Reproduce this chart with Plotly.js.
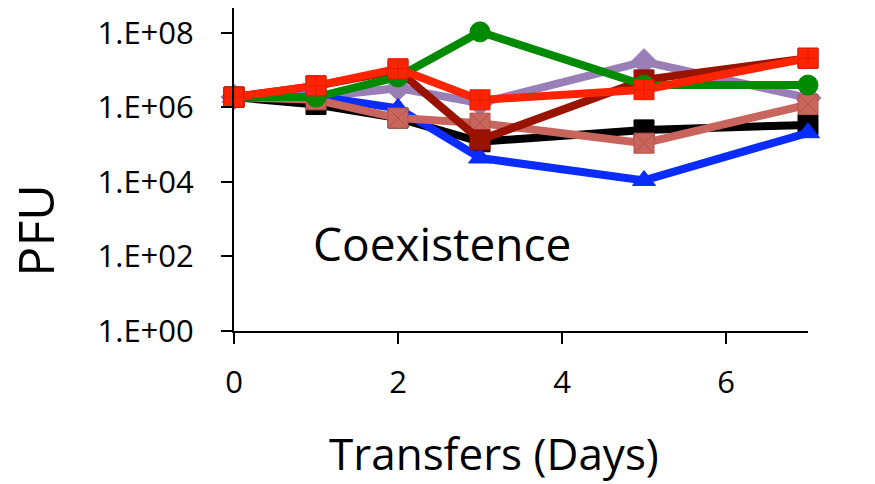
<!DOCTYPE html>
<html>
<head>
<meta charset="utf-8">
<script src="https://cdn.plot.ly/plotly-3.0.1.min.js"></script>
<style>
  html, body { margin: 0; padding: 0; background: #fff; }
  #chart { width: 875px; height: 484px; }
</style>
</head>
<body>
<div id="chart"></div>
<script>
// Transfer days sampled
const days = [0, 1, 2, 3, 5, 7];

// PFU per culture line
const pfuBlack   = [1.9e6, 1.2e6, 5.2e5, 1.2e5, 2.5e5, 3.4e5];
const pfuBlue    = [1.9e6, 2.0e6, 9.5e5, 4.4e4, 1.1e4, 2.1e5];
const pfuPurple  = [1.9e6, 1.9e6, 3.3e6, 1.3e6, 1.7e7, 1.8e6];
const pfuPink    = [1.9e6, 1.6e6, 5.2e5, 3.8e5, 1.1e5, 1.2e6];
const pfuDarkRed = [1.9e6, 3.8e6, 1.0e7, 1.35e5, 5.5e6, 2.1e7];
const pfuGreen   = [1.9e6, 1.9e6, 6.6e6, 1.07e8, 4.0e6, 4.0e6];
const pfuRed     = [1.9e6, 3.8e6, 1.1e7, 1.6e6, 3.0e6, 2.1e7];

// Y tick positions and labels
const yTickVals = [1, 1e2, 1e4, 1e6, 1e8];
const yTickText = ['1.E+00', '1.E+02', '1.E+04', '1.E+06', '1.E+08'];
const xTickVals = [0, 2, 4, 6];

function series(y, color, symbol, edge) {
  return {
    x: days, y: y, type: 'scatter', mode: 'lines+markers',
    line: { color: color, width: 8 },
    marker: { color: color, symbol: symbol, size: 20,
              line: { color: edge || color, width: 1 } },
    cliponaxis: false, showlegend: false, hoverinfo: 'skip'
  };
}

const data = [
  series(pfuPurple,  '#9a7fb6', 'diamond'),
  series(pfuBlack,   '#000000', 'square'),
  series(pfuBlue,    '#0a2cff', 'triangle-up'),
  series(pfuPink,    '#c8655d', 'square-x', '#b5524a'),
  series(pfuDarkRed, '#9a1200', 'square'),
  series(pfuGreen,   '#008a00', 'circle'),
  series(pfuRed,     '#ff2400', 'square-cross', '#e01a00')
];

const font = '"Open Sans", "Liberation Sans", sans-serif';

const layout = {
  width: 875, height: 484,
  margin: { l: 234, r: 67, t: 8, b: 153 },
  paper_bgcolor: '#fff', plot_bgcolor: '#fff',
  font: { family: font, color: '#000' },
  xaxis: {
    range: [0, 7], tickvals: xTickVals,
    showline: true, linecolor: '#000', linewidth: 2,
    ticks: 'outside', ticklen: 11, tickwidth: 2, tickcolor: '#000',
    ticklabelstandoff: 12,
    showgrid: false, zeroline: false,
    tickfont: { size: 31, family: font }
  },
  yaxis: {
    type: 'log', range: [0, 8.67],
    tickvals: yTickVals, ticktext: yTickText,
    showline: true, linecolor: '#000', linewidth: 2,
    ticks: 'outside', ticklen: 11, tickwidth: 2, tickcolor: '#000',
    ticklabelstandoff: 21,
    showgrid: false, zeroline: false,
    tickfont: { size: 31, family: font }
  },
  annotations: [
    {
      text: 'Coexistence', x: 0.362, y: 0.272, xref: 'paper', yref: 'paper',
      xanchor: 'center', yanchor: 'middle',
      showarrow: false, font: { size: 46, family: font, color: '#000' }
    },
    {
      text: 'Transfers (Days)', x: 0.453, y: -0.378, xref: 'paper', yref: 'paper',
      xanchor: 'center', yanchor: 'middle',
      showarrow: false, font: { size: 44, family: font, color: '#000' }
    },
    {
      text: 'PFU', x: -0.347, y: 0.31, xref: 'paper', yref: 'paper', textangle: -90,
      xanchor: 'center', yanchor: 'middle',
      showarrow: false, font: { size: 50, family: font, color: '#000' }
    }
  ]
};

Plotly.newPlot('chart', data, layout, { staticPlot: true, displayModeBar: false });
</script>
</body>
</html>
